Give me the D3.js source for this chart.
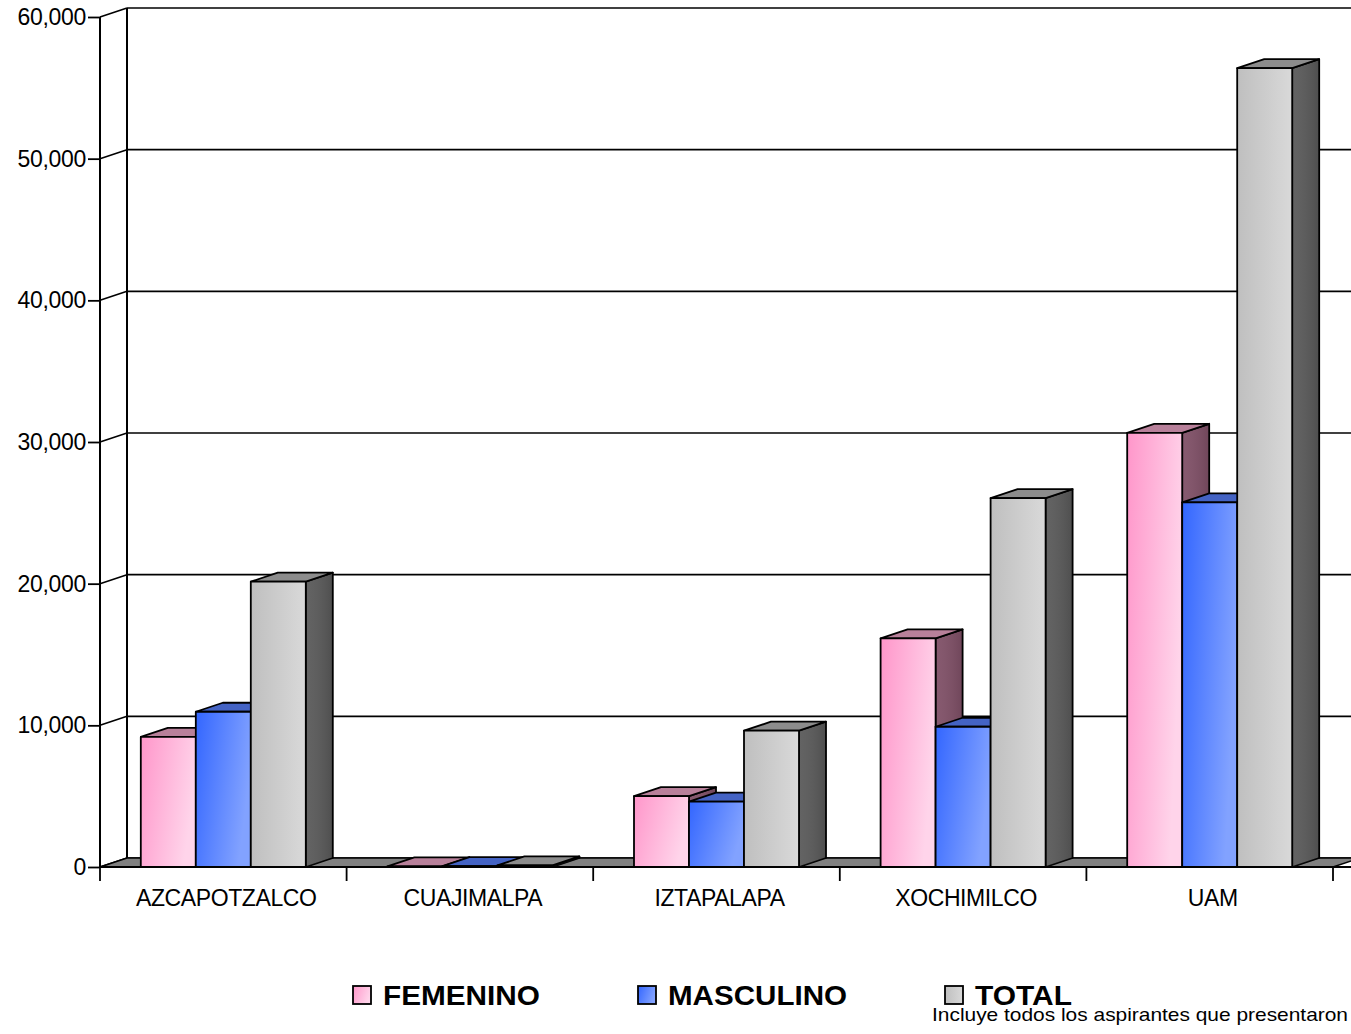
<!DOCTYPE html>
<html><head><meta charset="utf-8">
<script src="https://cdn.jsdelivr.net/npm/d3@7"></script>
<style>body{margin:0;background:#fff;overflow:hidden}svg{display:block}text{font-family:"Liberation Sans",Arial,sans-serif}</style>
</head><body>
<svg id="c" width="1351" height="1034"></svg>
<script>
const categories = ["AZCAPOTZALCO","CUAJIMALPA","IZTAPALAPA","XOCHIMILCO","UAM"];
const seriesNames = ["FEMENINO","MASCULINO","TOTAL"];
const femenino  = [9180, 50, 5000, 16140, 30650];
const masculino = [10960, 60, 4620, 9900, 25740];
const total     = [20140, 110, 9620, 26040, 56390];
const yTicks = [0,10000,20000,30000,40000,50000,60000];
const footnote = "Incluye todos los aspirantes que presentaron";

const values = [femenino, masculino, total];
const svg = d3.select("#c");
const dx = 27, dy = -9;
const left = 100, right = 1333, base = 867, topY = 17;

const y = d3.scaleLinear().domain([0,60000]).range([base, topY]);
const x0 = d3.scaleBand().domain(categories).range([left, right]).padding(0);
const bw = x0.bandwidth();
const barsW = 165;
const x1 = d3.scaleBand().domain(seriesNames).range([(bw-barsW)/2, (bw+barsW)/2]).padding(0);

// gradients
const defs = svg.append("defs");
const styles = {
  FEMENINO:  {g:["#ff96ca","#ffd4ea"], top:"#b8809a", side:"#7f4f66"},
  MASCULINO: {g:["#3366ff","#82a2ff"], top:"#4463c4", side:"#23399a"},
  TOTAL:     {g:["#bfbfbf","#d9d9d9"], top:"#8c8c8c", side:"#595959"}
};
seriesNames.forEach((s,i)=>{
  const lg = defs.append("linearGradient").attr("id","g"+i)
    .attr("x1","0").attr("y1","0").attr("x2","1").attr("y2", i===2? "0":"0.35");
  lg.append("stop").attr("offset","0").attr("stop-color",styles[s].g[0]);
  lg.append("stop").attr("offset","1").attr("stop-color",styles[s].g[1]);
});
const sg = defs.append("linearGradient").attr("id","side").attr("x1","0").attr("x2","1");
sg.append("stop").attr("offset","0").attr("stop-color","#ffffff").attr("stop-opacity",0.06);
sg.append("stop").attr("offset","1").attr("stop-color","#000000").attr("stop-opacity",0.12);

// back wall gridlines
const gGrid = svg.append("g");
yTicks.forEach(t=>{
  const yf = y(t), yb = y(t)+dy;
  gGrid.append("line").attr("x1",left+dx).attr("x2",right+dx+30).attr("y1",yb).attr("y2",yb)
    .attr("stroke","#000").attr("stroke-width",1.6);
  gGrid.append("line").attr("x1",left).attr("x2",left+dx).attr("y1",yf).attr("y2",yb)
    .attr("stroke","#000").attr("stroke-width",1.6);
});
gGrid.append("line").attr("x1",left+dx).attr("x2",left+dx).attr("y1",y(60000)+dy).attr("y2",base+dy)
  .attr("stroke","#000").attr("stroke-width",2);

// floor
svg.append("polygon")
  .attr("points",[[left,base],[left+dx,base+dy],[right+dx,base+dy],[right,base]].join(" "))
  .attr("fill","#808080").attr("stroke","#000").attr("stroke-width",1.5);

// bars
const pts = a => a.map(p=>p.join(",")).join(" ");
const gBars = svg.append("g");
categories.forEach((c,ci)=>{
  seriesNames.forEach((s,si)=>{
    const v = values[si][ci];
    const xa = x0(c) + x1(s), xb = xa + x1.bandwidth();
    const yt = y(v), yb = y(0);
    const g = gBars.append("g").attr("stroke","#000").attr("stroke-width",1.8).attr("stroke-linejoin","round");
    g.append("polygon").attr("points",pts([[xb,yt],[xb+dx,yt+dy],[xb+dx,yb+dy],[xb,yb]])).attr("fill",styles[s].side);
    g.append("polygon").attr("points",pts([[xb,yt],[xb+dx,yt+dy],[xb+dx,yb+dy],[xb,yb]])).attr("fill","url(#side)").attr("stroke","none");
    g.append("polygon").attr("points",pts([[xa,yt],[xa+dx,yt+dy],[xb+dx,yt+dy],[xb,yt]])).attr("fill",styles[s].top);
    g.append("rect").attr("x",xa).attr("y",yt).attr("width",xb-xa).attr("height",Math.max(0.01,yb-yt))
      .attr("fill","url(#g"+si+")");
  });
});

// front axes
svg.append("line").attr("x1",left).attr("x2",left).attr("y1",topY).attr("y2",base)
  .attr("stroke","#000").attr("stroke-width",2);
svg.append("line").attr("x1",left).attr("x2",right+20).attr("y1",base).attr("y2",base)
  .attr("stroke","#000").attr("stroke-width",2.2);

const yAxis = d3.axisLeft(y).tickValues(yTicks).tickFormat(d3.format(",")).tickSize(12).tickPadding(2);
const ya = svg.append("g").attr("transform",`translate(${left},0)`).call(yAxis);
ya.select(".domain").remove();
ya.selectAll("line").attr("stroke","#000").attr("stroke-width",1.8);
ya.selectAll("text").attr("font-size",23).attr("letter-spacing",-0.3).attr("fill","#000")
  .attr("font-family",'"Liberation Sans",Arial,sans-serif');

// category ticks and labels
const bounds = categories.map(c=>x0(c)).concat([right]);
svg.append("g").selectAll("line").data(bounds).join("line")
  .attr("x1",d=>d).attr("x2",d=>d).attr("y1",base).attr("y2",base+14)
  .attr("stroke","#000").attr("stroke-width",1.8);
svg.append("g").selectAll("text").data(categories).join("text")
  .attr("x",d=>x0(d)+bw/2+3).attr("y",906).attr("text-anchor","middle")
  .attr("font-size",23).attr("letter-spacing",-0.4).attr("fill","#000").text(d=>d);

// legend
const legX = [353, 638, 945];
const legLen = [157, 179, 97];
const leg = svg.append("g");
seriesNames.forEach((s,i)=>{
  leg.append("rect").attr("x",legX[i]).attr("y",986).attr("width",18).attr("height",18)
    .attr("fill","url(#g"+i+")").attr("stroke","#000").attr("stroke-width",1.8);
  leg.append("text").attr("x",legX[i]+30).attr("y",1005).attr("font-size",27).attr("font-weight","bold")
    .attr("textLength",legLen[i]).attr("lengthAdjust","spacingAndGlyphs").attr("fill","#000").text(s);
});
svg.append("text").attr("x",932).attr("y",1021).attr("font-size",18.5)
  .attr("textLength",416).attr("lengthAdjust","spacingAndGlyphs").attr("fill","#000").text(footnote);
</script>
</body></html>
